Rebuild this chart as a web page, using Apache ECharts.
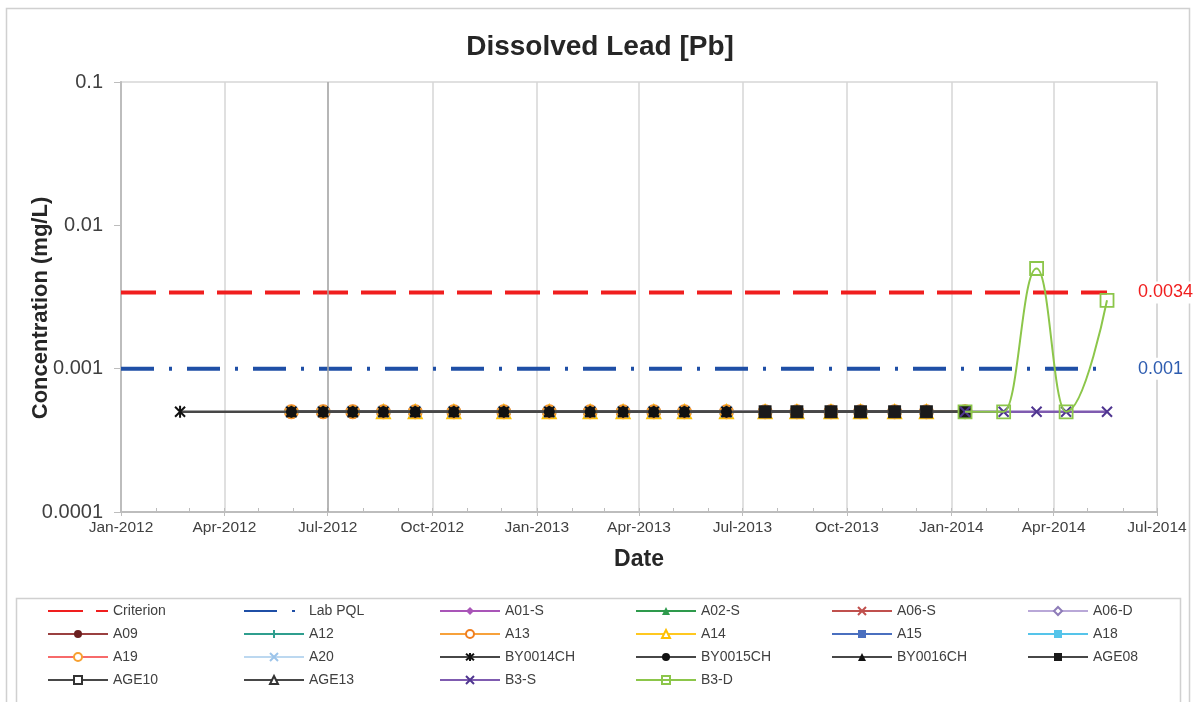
<!DOCTYPE html>
<html><head><meta charset="utf-8">
<script src="https://cdn.jsdelivr.net/npm/echarts@6/dist/echarts.min.js"></script>
<style>html,body{margin:0;padding:0;background:#fff}#chart{width:1200px;height:702px}</style>
</head><body><div id="chart"></div>
<script>
// ---------------- DATA ----------------
const chartTitle = 'Dissolved Lead [Pb]';
const xAxisName = 'Date';
const yAxisName = 'Concentration (mg/L)';

const xTickDates = ['2012-01-01','2012-04-01','2012-07-01','2012-10-01','2013-01-01','2013-04-01','2013-07-01','2013-10-01','2014-01-01','2014-04-01','2014-07-01'];
const xTickLabels = ['Jan-2012','Apr-2012','Jul-2012','Oct-2012','Jan-2013','Apr-2013','Jul-2013','Oct-2013','Jan-2014','Apr-2014','Jul-2014'];
const yTickValues = [0.0001, 0.001, 0.01, 0.1];
const yTickLabels = ['0.0001', '0.001', '0.01', '0.1'];
const markerDate = '2012-07-01';

const sampleDates = ['2012-02-22','2012-05-30','2012-06-27','2012-07-23','2012-08-19','2012-09-16','2012-10-20','2012-12-03',
  '2013-01-12','2013-02-17','2013-03-18','2013-04-14','2013-05-11','2013-06-17','2013-07-21','2013-08-18','2013-09-17',
  '2013-10-13','2013-11-12','2013-12-10','2014-01-13','2014-02-16','2014-03-17','2014-04-12','2014-05-18'];

const criterionDates = ['2012-01-01', '2014-05-18'];
const criterionValues = [0.0034, 0.0034];
const pqlDates = ['2012-01-01', '2014-05-18'];
const pqlValues = [0.001, 0.001];

const A01S = [null,0.0005,0.0005,0.0005,0.0005,0.0005,0.0005,0.0005,0.0005,0.0005,0.0005,0.0005,0.0005,0.0005,0.0005,0.0005,0.0005,0.0005,0.0005,0.0005,null,null,null,null,null];
const A02S = [null,0.0005,0.0005,0.0005,0.0005,0.0005,0.0005,0.0005,0.0005,0.0005,0.0005,0.0005,0.0005,0.0005,0.0005,0.0005,0.0005,0.0005,0.0005,0.0005,null,null,null,null,null];
const A06S = [null,0.0005,0.0005,0.0005,0.0005,0.0005,0.0005,0.0005,0.0005,0.0005,0.0005,0.0005,0.0005,0.0005,0.0005,0.0005,0.0005,0.0005,0.0005,0.0005,null,null,null,null,null];
const A06D = [null,0.0005,0.0005,0.0005,0.0005,0.0005,0.0005,0.0005,0.0005,0.0005,0.0005,0.0005,0.0005,0.0005,0.0005,0.0005,0.0005,0.0005,0.0005,0.0005,null,null,null,null,null];
const A09  = [null,0.0005,0.0005,0.0005,0.0005,0.0005,0.0005,0.0005,0.0005,0.0005,0.0005,0.0005,0.0005,0.0005,0.0005,0.0005,0.0005,0.0005,0.0005,0.0005,null,null,null,null,null];
const A12  = [null,0.0005,0.0005,0.0005,0.0005,0.0005,0.0005,0.0005,0.0005,0.0005,0.0005,0.0005,0.0005,0.0005,0.0005,0.0005,0.0005,0.0005,0.0005,0.0005,null,null,null,null,null];
const A13  = [null,0.0005,0.0005,0.0005,0.0005,0.0005,0.0005,0.0005,0.0005,0.0005,0.0005,0.0005,0.0005,0.0005,0.0005,0.0005,0.0005,0.0005,0.0005,0.0005,0.0005,null,null,null,null];
const A14  = [null,null,null,null,0.0005,0.0005,0.0005,0.0005,0.0005,0.0005,0.0005,0.0005,0.0005,0.0005,0.0005,0.0005,0.0005,0.0005,0.0005,0.0005,null,null,null,null,null];
const A15  = [null,0.0005,0.0005,0.0005,0.0005,0.0005,0.0005,0.0005,0.0005,0.0005,0.0005,0.0005,0.0005,0.0005,0.0005,0.0005,0.0005,0.0005,0.0005,0.0005,null,null,null,null,null];
const A18  = [null,0.0005,0.0005,0.0005,0.0005,0.0005,0.0005,0.0005,0.0005,0.0005,0.0005,0.0005,0.0005,0.0005,0.0005,0.0005,0.0005,0.0005,0.0005,0.0005,null,null,null,null,null];
const A19  = [null,0.0005,0.0005,0.0005,0.0005,0.0005,0.0005,0.0005,0.0005,0.0005,0.0005,0.0005,0.0005,0.0005,0.0005,0.0005,0.0005,0.0005,0.0005,0.0005,null,null,null,null,null];
const A20  = [null,0.0005,0.0005,0.0005,0.0005,0.0005,0.0005,0.0005,0.0005,0.0005,0.0005,0.0005,0.0005,0.0005,0.0005,0.0005,0.0005,0.0005,0.0005,0.0005,null,null,null,null,null];
const BY0014CH = [0.0005,0.0005,0.0005,0.0005,0.0005,0.0005,0.0005,0.0005,0.0005,0.0005,0.0005,0.0005,0.0005,0.0005,0.0005,0.0005,0.0005,0.0005,0.0005,0.0005,null,null,null,null,null];
const BY0015CH = [null,0.0005,0.0005,0.0005,0.0005,0.0005,0.0005,0.0005,0.0005,0.0005,0.0005,0.0005,0.0005,0.0005,null,null,null,null,null,null,null,null,null,null,null];
const BY0016CH = [null,0.0005,0.0005,0.0005,0.0005,0.0005,0.0005,0.0005,0.0005,0.0005,0.0005,0.0005,0.0005,0.0005,null,null,null,null,null,null,null,null,null,null,null];
const AGE08 = [null,null,null,null,null,null,null,null,null,null,null,null,null,null,0.0005,0.0005,0.0005,0.0005,0.0005,0.0005,0.0005,null,null,null,null];
const AGE10 = [null,null,null,null,null,null,null,null,null,null,null,null,null,null,0.0005,0.0005,0.0005,0.0005,0.0005,0.0005,0.0005,null,null,null,null];
const AGE13 = [null,null,null,null,null,null,null,null,null,null,null,null,null,null,0.0005,0.0005,0.0005,0.0005,0.0005,0.0005,0.0005,null,null,null,null];
const B3S = [null,null,null,null,null,null,null,null,null,null,null,null,null,null,null,null,null,null,null,null,0.0005,0.0005,0.0005,0.0005,0.0005];
const B3D = [null,null,null,null,null,null,null,null,null,null,null,null,null,null,null,null,null,null,null,null,0.0005,0.0005,0.005,0.0005,0.003];

// ---------------- STYLES ----------------
const FONT = '"Liberation Sans", Arial, sans-serif';
const P_X = 'path://M0,0L10,10M10,0L0,10';
const P_STAR = 'path://M0,0L10,10M10,0L0,10M5,-1L5,11';
const P_PLUS = 'path://M5,0L5,10M0,5L10,5';
const P_DASH = 'path://M0,3.5L10,3.5L10,6.5L0,6.5Z';
const P_OSQ = 'path://M0,0L10,0L10,10L0,10Z';

function toTime(s) { const p = s.split('-'); return Date.UTC(+p[0], +p[1] - 1, +p[2]); }
const xTickValues = xTickDates.map(toTime);
const xMin = toTime('2012-01-01'), xMax = toTime('2014-07-01');
const monthTicks = [];
for (let y = 2012; y <= 2014; y++) for (let m = 0; m < 12; m++) {
  const t = Date.UTC(y, m, 1);
  if (t <= xMax) monthTicks.push(t);
}

// name, values, line colour, marker colour, symbol, stroke mode, symbol size, z
const sampleSpecs = [
  ['A01-S', A01S, '#a955b8', '#a955b8', 'diamond', false, 10, 4],
  ['A02-S', A02S, '#2e9a4c', '#2e9a4c', 'triangle', false, 10, 4],
  ['A06-S', A06S, '#c0504d', '#c0504d', P_X, true, 10, 4],
  ['A06-D', A06D, '#b9a8d8', '#8e7cb8', 'emptyDiamond', false, 10, 4],
  ['A09', A09, '#9a4040', '#6b1f1f', 'circle', false, 11, 4],
  ['A12', A12, '#2f9e8e', '#2f9e8e', P_PLUS, true, 11, 4],
  ['A13', A13, '#f7a13b', '#f07f20', 'emptyCircle', false, 13, 4],
  ['A14', A14, '#ffc820', '#ffc000', 'emptyTriangle', false, 13, 4],
  ['A15', A15, '#4a6fbf', '#4a6fbf', P_DASH, false, 12, 4],
  ['A18', A18, '#55c4ea', '#55c4ea', P_DASH, false, 14, 4],
  ['A19', A19, '#f76a6a', '#f7a030', 'emptyCircle', false, 12, 4],
  ['A20', A20, '#bcd8f0', '#9cc4ea', P_X, true, 11, 4],
  ['BY0014CH', BY0014CH, '#474747', '#111111', P_STAR, true, 12, 5],
  ['BY0015CH', BY0015CH, '#474747', '#111111', 'circle', false, 11, 5],
  ['BY0016CH', BY0016CH, '#474747', '#111111', 'triangle', false, 11, 5],
  ['AGE08', AGE08, '#474747', '#1a1a1a', 'rect', false, 12, 6],
  ['AGE10', AGE10, '#474747', '#333333', 'emptyRect', false, 11, 5],
  ['AGE13', AGE13, '#474747', '#333333', 'emptyTriangle', false, 10, 5],
  ['B3-S', B3S, '#7f5bb0', '#4f3590', P_X, true, 10, 7],
  ['B3-D', B3D, '#8cc64a', '#8cc64a', P_OSQ, 'open', 13, 8]
];

const series = [];
series.push({
  name: 'Criterion', type: 'line', xAxisIndex: 0, yAxisIndex: 0,
  data: criterionDates.map((d, i) => [toTime(d), criterionValues[i]]),
  symbol: 'circle', showSymbol: false, z: 3,
  lineStyle: { color: '#f01e1e', width: 4, type: [35, 13] },
  itemStyle: { color: 'rgba(0,0,0,0)' },
  endLabel: { show: true, distance: 30, formatter: p => String(p.value[1]), color: '#f01e1e', fontSize: 18, fontFamily: FONT, backgroundColor: '#fff', padding: [2, 1] },
  markLine: {
    silent: true, symbol: 'none', label: { show: false },
    lineStyle: { color: '#a8a8a8', width: 1.5, type: 'solid' },
    data: [{ xAxis: toTime(markerDate) }]
  }
});
series.push({
  name: 'Lab PQL', type: 'line', xAxisIndex: 0, yAxisIndex: 0,
  data: pqlDates.map((d, i) => [toTime(d), pqlValues[i]]),
  symbol: 'circle', showSymbol: false, z: 3,
  lineStyle: { color: '#1f4fa6', width: 4, type: [33, 15, 3, 15] },
  itemStyle: { color: 'rgba(0,0,0,0)' },
  endLabel: { show: true, distance: 30, formatter: p => String(p.value[1]), color: '#2d5cb0', fontSize: 18, fontFamily: FONT, backgroundColor: '#fff', padding: [2, 1] }
});
sampleSpecs.forEach(([name, vals, lc, mc, sym, stroke, size, z]) => {
  const s = {
    name, type: 'line', xAxisIndex: 0, yAxisIndex: 0,
    data: sampleDates.map((d, i) => [toTime(d), vals[i]]),
    symbol: sym, symbolSize: size, symbolKeepAspect: true, showSymbol: true, z,
    lineStyle: { color: lc, width: 2.5 },
    itemStyle: { color: mc }
  };
  if (stroke === true) s.itemStyle = { color: mc, borderColor: mc, borderWidth: 2 };
  if (stroke === 'open') {
    s.itemStyle = { color: 'rgba(255,255,255,0)', borderColor: mc, borderWidth: 1.8 };
    s.smooth = 0.45; s.smoothMonotone = 'x'; s.lineStyle.width = 2;
  }
  series.push(s);
});

const chart = echarts.init(document.getElementById('chart'), null, { renderer: 'canvas' });
chart.setOption({
  animation: false,
  backgroundColor: '#fff',
  textStyle: { fontFamily: FONT },
  title: {
    text: chartTitle, left: 'center', top: 28,
    textStyle: { fontSize: 28, fontWeight: 'bold', color: '#262626', fontFamily: FONT }
  },
  graphic: [
    { type: 'rect', shape: { x: 6.5, y: 8.5, width: 1183, height: 720 }, style: { fill: 'none', stroke: '#d0d0d0', lineWidth: 1.5 }, silent: true, z: -10 },
    { type: 'rect', shape: { x: 16.5, y: 598.5, width: 1164, height: 140 }, style: { fill: 'none', stroke: '#d0d0d0', lineWidth: 1.5 }, silent: true, z: -10 }
  ],
  grid: { left: 121, right: 43, top: 82, bottom: 190, show: true, borderColor: '#d6d6d6', borderWidth: 1.5, backgroundColor: 'transparent' },
  legend: {
    left: 42, top: 597, width: 1190,
    itemWidth: 60, itemHeight: 10, itemGap: 5,
    data: series.map(s => s.name),
    textStyle: { fontSize: 14, color: '#404040', width: 125, lineHeight: 18, fontFamily: FONT }
  },
  xAxis: [{
    type: 'value', min: xMin, max: xMax, scale: true,
    name: xAxisName, nameLocation: 'middle', nameGap: 36,
    nameTextStyle: { fontSize: 23, fontWeight: 'bold', color: '#262626', fontFamily: FONT },
    axisLine: { show: true, onZero: false, lineStyle: { color: '#bdbdbd', width: 2 } },
    axisTick: { show: true, inside: false, length: 4, customValues: xTickValues, lineStyle: { color: '#bdbdbd' } },
    axisLabel: {
      customValues: xTickValues, margin: 8, fontSize: 15.5, color: '#404040', fontFamily: FONT, hideOverlap: false,
      formatter: v => { const i = xTickValues.indexOf(v); return i >= 0 ? xTickLabels[i] : ''; }
    },
    splitLine: { show: true, lineStyle: { color: '#d6d6d6', width: 1.5 } }
  }, {
    type: 'value', min: xMin, max: xMax, scale: true, position: 'bottom',
    axisLine: { show: false, onZero: false },
    axisTick: { show: true, inside: true, length: 4, customValues: monthTicks, lineStyle: { color: '#bdbdbd', width: 1 } },
    axisLabel: { show: false },
    splitLine: { show: false }
  }],
  yAxis: {
    type: 'log', logBase: 10, min: 0.0001, max: 0.1,
    name: yAxisName, nameLocation: 'middle', nameGap: 69, nameRotate: 90, nameMoveOverlap: false,
    nameTextStyle: { fontSize: 22, fontWeight: 'bold', color: '#262626', fontFamily: FONT, padding: [0, 22, 0, 0] },
    axisLine: { show: true, lineStyle: { color: '#bdbdbd', width: 2 } },
    axisTick: { show: true, inside: false, length: 7, lineStyle: { color: '#bdbdbd' } },
    axisLabel: {
      margin: 18, fontSize: 20, color: '#404040', fontFamily: FONT,
      formatter: v => {
        let best = 0;
        yTickValues.forEach((t, i) => { if (Math.abs(Math.log10(t) - Math.log10(v)) < Math.abs(Math.log10(yTickValues[best]) - Math.log10(v))) best = i; });
        return yTickLabels[best];
      }
    },
    splitLine: { show: false },
    minorTick: { show: false }
  },
  series
});
</script></body></html>
